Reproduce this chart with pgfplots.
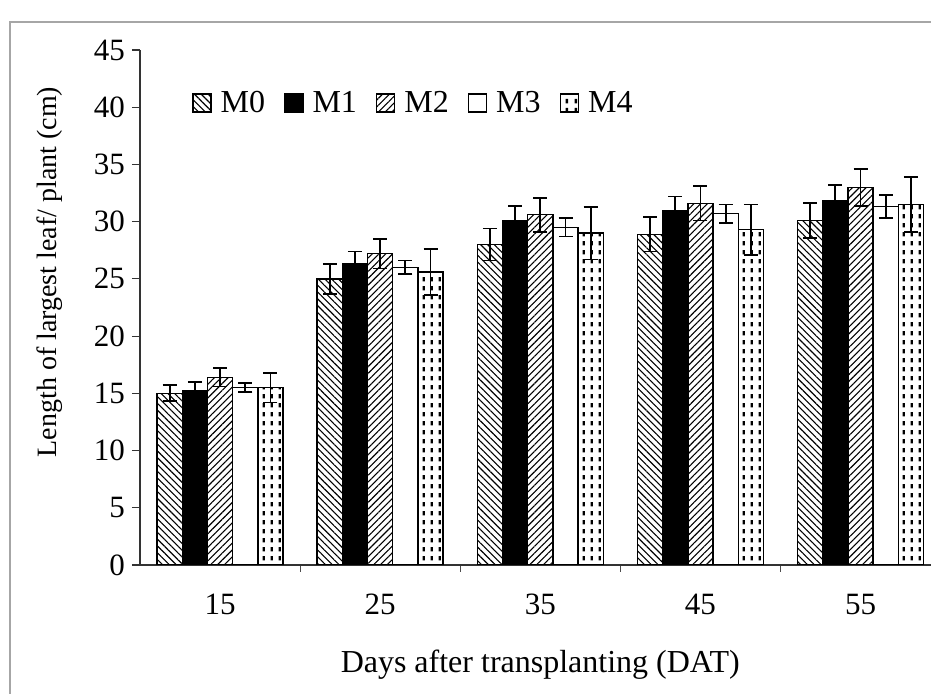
\documentclass[border=0pt]{standalone}
\usepackage{fontspec}
\setmainfont{Liberation Serif}
\usepackage{pgfplots}
\pgfplotsset{compat=1.18}
\usetikzlibrary{patterns,patterns.meta}

% dashed dots for M4
\tikzdeclarepattern{
  name=dashdots,
  type=uncolored,
  bounding box={(0pt,0pt) and (4.2pt,4.4pt)},
  tile size={(4.2pt,4.4pt)},
  code={\fill (1.4pt,0.8pt) rectangle (2.6pt,3.0pt);}
}

\pgfplotsset{
  mybar/.style={draw=black, line width=0.7pt,
    legend image code/.code={\draw[##1, line width=0.7pt] (0pt,-4.5pt) rectangle (9pt,4.5pt); \path (11.5pt,0pt);},
    error bars/y dir=both, error bars/y explicit,
    error bars/error bar style={line width=0.9pt, black},
    error bars/error mark options={rotate=90, mark size=3.5pt, line width=0.9pt, black}},
}

\begin{document}
\begin{tikzpicture}
\path[use as bounding box] (-70pt,-64.5pt) rectangle (395.5pt,282.5pt);
\draw[gray!70, line width=0.9pt] (-65pt,-64.5pt) -- (-65pt,271.5pt) -- (395.5pt,271.5pt);
\begin{axis}[
  at={(0,0)}, anchor=south west,
  scale only axis, width=395.5pt, height=257.5pt,
  ybar=0pt, bar width=12.6pt,
  xmin=0.5, xmax=5.44, ymin=0, ymax=45,
  axis x line=bottom, axis y line=left,
  axis line style={-, line width=0.6pt, black!80},
  tick align=outside,
  xtick={1,2,3,4,5}, xticklabels={15,25,35,45,55},
  major x tick style={draw=none},
  minor xtick={1.5,2.5,3.5,4.5},
  minor x tick style={line width=0.6pt, black!70},
  minor tick length=3.5pt,
  ytick={0,5,...,45},
  y tick style={line width=0.6pt, black!80},
  major tick length=4pt,
  /pgf/number format/assume math mode=true,
  tick label style={font=\fontsize{15.5}{18}\selectfont},
  x tick label style={yshift=-7pt},
  xlabel={Days after transplanting (DAT)},
  xlabel style={at={(axis description cs:0.506,-0.194)}, anchor=center, font=\fontsize{16}{18}\selectfont},
  ylabel={Length of largest leaf/ plant (cm)},
  ylabel style={at={(axis description cs:-0.114,0.569)}, anchor=center, rotate=0, font=\fontsize{14}{16}\selectfont},
  legend style={at={(axis description cs:0.058,0.897)}, anchor=west, draw=none, fill=none,
    font=\fontsize{16}{18}\selectfont, legend columns=5,
    /tikz/every even column/.append style={column sep=7.5pt}},
]
\addplot+[mybar, fill=none, draw=black, pattern={Lines[angle=-45, distance=2.4pt, line width=0.55pt]}, pattern color=black]
 coordinates {(1,15.0) +- (0,0.7) (2,25.0) +- (0,1.3) (3,28.0) +- (0,1.4) (4,28.9) +- (0,1.5) (5,30.1) +- (0,1.5)};
\addlegendentry{M0}
\addplot+[mybar, fill=black, draw=black]
 coordinates {(1,15.2) +- (0,0.8) (2,26.3) +- (0,1.1) (3,30.1) +- (0,1.3) (4,31.0) +- (0,1.2) (5,31.8) +- (0,1.4)};
\addlegendentry{M1}
\addplot+[mybar, fill=none, draw=black, pattern={Lines[angle=45, distance=2.4pt, line width=0.55pt]}, pattern color=black]
 coordinates {(1,16.4) +- (0,0.8) (2,27.2) +- (0,1.3) (3,30.6) +- (0,1.5) (4,31.6) +- (0,1.5) (5,33.0) +- (0,1.6)};
\addlegendentry{M2}
\addplot+[mybar, fill=white, draw=black]
 coordinates {(1,15.5) +- (0,0.4) (2,26.0) +- (0,0.6) (3,29.5) +- (0,0.8) (4,30.7) +- (0,0.8) (5,31.3) +- (0,1.0)};
\addlegendentry{M3}
\addplot+[mybar, fill=white, draw=black, postaction={pattern=dashdots, pattern color=black}]
 coordinates {(1,15.5) +- (0,1.3) (2,25.6) +- (0,2.0) (3,29.0) +- (0,2.3) (4,29.3) +- (0,2.2) (5,31.5) +- (0,2.4)};
\addlegendentry{M4}
\end{axis}
\end{tikzpicture}
\end{document}
